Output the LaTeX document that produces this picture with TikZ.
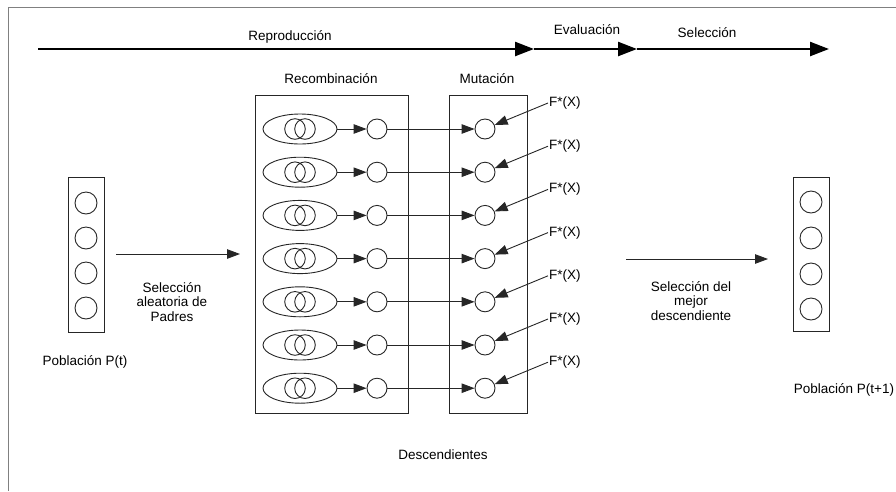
\documentclass[tikz,border=0pt]{standalone}
\usepackage{fontspec}
\setmainfont{Liberation Sans}
\usetikzlibrary{arrows.meta,shapes.geometric}
\begin{document}
\begin{tikzpicture}[x=1pt,y=-1pt,
  txt/.style={font=\fontsize{13.5}{14.5}\selectfont,inner sep=1pt,align=center},
  thin line/.style={draw=black!85,line width=0.9pt},
  tip/.style={-{Triangle[length=13pt,width=9.5pt]}},
  bigtip/.style={-{Triangle[length=19pt,width=14pt]}},
  dot/.style={circle,draw=black!85,line width=0.9pt,minimum size=20pt,inner sep=0pt},
  popdot/.style={circle,draw=black!85,line width=0.9pt,minimum size=22pt,inner sep=0pt},
  parent/.style={ellipse,draw=black!85,line width=0.9pt,minimum width=74pt,minimum height=30pt,inner sep=0pt},
  panel/.style={draw=black!85,line width=0.9pt}]
\useasboundingbox (0,0) rectangle (896,491);

% outer frame (top and left edges)
\draw[gray,line width=1pt] (896,7) -- (8,7) -- (8,491);

% stage arrow along the top
\coordinate (r0) at (38,49);
\coordinate (r1) at (534,49);
\coordinate (r2) at (637,49);
\coordinate (r3) at (829,49);
\draw[line width=2.4pt,bigtip] (r0) -- (r1);
\draw[line width=2.4pt,bigtip] (r1) -- (r2);
\draw[line width=2.4pt,bigtip] (r2) -- (r3);
\node[txt] (trep) at (290,37) {Reproducción};
\node[txt] (teva) at (587,30) {Evaluación};
\node[txt] (tsel) at (707,33) {Selección};

% recombination and mutation panels
\draw[panel] (255,95) rectangle (408,413);
\draw[panel] (449,95) rectangle (527,413);
\node[txt] (trec) at (331,79) {Recombinación};
\node[txt] (tmut) at (487,79) {Mutación};

\foreach \i in {0,...,6} {
  \pgfmathsetmacro{\yy}{129+43.2*\i}
  \node[parent] (p\i) at (300,\yy) {};
  \draw[black!85,line width=0.9pt] (295,\yy) circle (10.3pt) (305,\yy) circle (10.3pt);
  \node[dot] (c\i) at (377,\yy) {};
  \node[dot] (m\i) at (485,\yy) {};
  \node[txt,anchor=west] (f\i) at (548,\yy-26) {F*(X)};
  \draw[thin line,tip] (p\i) -- (c\i);
  \draw[thin line,tip] (c\i) -- (m\i);
  \draw[thin line,tip] (f\i.west) -- (m\i);
}
\node[txt] (tdes) at (443,455) {Descendientes};

% current population
\draw[panel] (68,177) rectangle (104,332);
\foreach \i/\yy in {0/203,1/238,2/273,3/308}
  \node[popdot] (a\i) at (86,\yy) {};
\node[txt] (tpa) at (85,362) {Población P(t)};

% next population
\draw[panel] (793,177) rectangle (829,331);
\foreach \i/\yy in {0/202,1/238,2/274,3/309}
  \node[popdot] (b\i) at (811,\yy) {};
\node[txt] (tpb) at (844,390) {Población P(t+1)};

% transitions between populations and panels
\coordinate (s0) at (116,254);
\coordinate (s1) at (240,254);
\draw[thin line,tip] (s0) -- (s1);
\node[txt] (tsa) at (172,302) {Selección\\aleatoria de\\Padres};
\coordinate (e0) at (626,259);
\coordinate (e1) at (768,259);
\draw[thin line,tip] (e0) -- (e1);
\node[txt] (tsb) at (691,301) {Selección del\\mejor\\descendiente};
\end{tikzpicture}
\end{document}
